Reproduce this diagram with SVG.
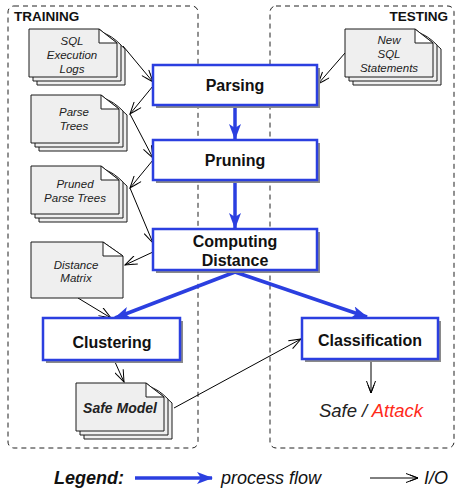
<svg xmlns="http://www.w3.org/2000/svg" width="455" height="491" viewBox="0 0 455 491">
<style>
.region{fill:none;stroke:#222;stroke-width:1;stroke-dasharray:5,4}
.rtitle{font-family:"Liberation Sans",Arial,sans-serif;font-weight:bold;font-size:13.5px;fill:#111}
.box{fill:#fff;stroke:#2b3fe0;stroke-width:2.5}
.shadow{fill:#8a8a8a}
.btxt{font-family:"Liberation Sans",Arial,sans-serif;font-weight:bold;font-size:16px;fill:#111;text-anchor:middle}
.sheet{fill:#efefef;stroke:#1a1a1a;stroke-width:1}
.fold{fill:#fff;stroke:#1a1a1a;stroke-width:1}
.dtxt{font-family:"Liberation Sans",Arial,sans-serif;font-style:italic;font-size:11.5px;fill:#222;text-anchor:middle}
.io{fill:none;stroke:#000;stroke-width:1;marker-end:url(#io)}
.flow{fill:none;stroke:#2b3fe0;stroke-width:3.5;marker-end:url(#flow)}
.lg{font-family:"Liberation Sans",Arial,sans-serif;font-size:18px;fill:#111}
</style>
<defs>
<marker id="io" viewBox="0 0 14 10" refX="13" refY="5" markerWidth="14" markerHeight="10" markerUnits="userSpaceOnUse" orient="auto">
<path d="M1,0.5 L13,5 L1,9.5 M5,2 L13,5 L5,8" fill="none" stroke="#000" stroke-width="1"/>
</marker>
<marker id="flow" viewBox="0 0 16 12" refX="15" refY="6" markerWidth="16" markerHeight="12" markerUnits="userSpaceOnUse" orient="auto">
<path d="M0,0 L16,6 L0,12 L4,6 Z" fill="#2b3fe0"/>
</marker>
<g id="stack">
<path class="sheet" d="M8,8 H78 Q86,10 96,20 V56 H8 Z"/>
<path class="sheet" d="M4,4 H74 Q82,6 92,16 V52 H4 Z"/>
<path class="sheet" d="M0,0 H70 L88,14 V48 H0 Z"/>
<path class="fold" d="M70,0 L88,14 H70 Z"/>
</g>
</defs>

<g id="regions">
<rect class="region" x="8" y="6" width="190" height="442" rx="6"/>
<text class="rtitle" x="14" y="21">TRAINING</text>
<rect class="region" x="270" y="6" width="184" height="442" rx="6"/>
<text class="rtitle" x="448" y="21" text-anchor="end">TESTING</text>
</g>

<g id="connectors">
<line class="flow" x1="235" y1="106" x2="235" y2="139"/>
<line class="flow" x1="235" y1="181" x2="235" y2="228"/>
<line class="flow" x1="235" y1="272" x2="115" y2="318"/>
<line class="flow" x1="235" y1="272" x2="367" y2="317"/>
<line class="io" x1="123" y1="46" x2="153" y2="82"/>
<line class="io" x1="153" y1="86" x2="130" y2="114"/>
<line class="io" x1="130" y1="114" x2="153" y2="158"/>
<line class="io" x1="153" y1="160" x2="130" y2="188"/>
<line class="io" x1="130" y1="188" x2="153" y2="243"/>
<line class="io" x1="153" y1="252" x2="125" y2="265"/>
<line class="io" x1="78" y1="298" x2="111" y2="318"/>
<line class="io" x1="115" y1="362" x2="124" y2="382"/>
<line class="io" x1="174" y1="408" x2="301" y2="339"/>
<line class="io" x1="345" y1="53" x2="318" y2="84"/>
<line class="io" x1="371" y1="361" x2="371" y2="393"/>
</g>

<g id="parsing">
<rect class="shadow" x="156" y="68" width="164" height="40"/>
<rect class="box" x="153" y="65" width="164" height="40"/>
<text class="btxt" x="235" y="91">Parsing</text>
</g>
<g id="pruning">
<rect class="shadow" x="156" y="143" width="164" height="40"/>
<rect class="box" x="153" y="140" width="164" height="40"/>
<text class="btxt" x="235" y="166">Pruning</text>
</g>
<g id="computing-distance">
<rect class="shadow" x="156" y="232" width="164" height="41"/>
<rect class="box" x="153" y="229" width="164" height="41"/>
<text class="btxt" x="235" y="247">Computing</text>
<text class="btxt" x="235" y="266">Distance</text>
</g>
<g id="clustering">
<rect class="shadow" x="46" y="321" width="137" height="42"/>
<rect class="box" x="43" y="318" width="137" height="42"/>
<text class="btxt" x="112" y="348">Clustering</text>
</g>
<g id="classification">
<rect class="shadow" x="305" y="321" width="136" height="41"/>
<rect class="box" x="302" y="318" width="136" height="41"/>
<text class="btxt" x="370" y="346">Classification</text>
</g>

<g id="sql-logs">
<use href="#stack" x="29" y="29"/>
<text class="dtxt" x="72" y="45">SQL</text>
<text class="dtxt" x="72" y="59">Execution</text>
<text class="dtxt" x="72" y="73">Logs</text>
</g>
<g id="parse-trees">
<use href="#stack" x="31" y="95"/>
<text class="dtxt" x="74" y="116">Parse</text>
<text class="dtxt" x="74" y="130">Trees</text>
</g>
<g id="pruned-parse-trees">
<use href="#stack" x="31" y="166"/>
<text class="dtxt" x="75" y="188">Pruned</text>
<text class="dtxt" x="75" y="202">Parse Trees</text>
</g>
<g id="distance-matrix">
<path class="sheet" d="M31,242 H103 L123,256 V298 H31 Z"/>
<path class="fold" d="M103,242 L123,256 H103 Z"/>
<text class="dtxt" x="76" y="269">Distance</text>
<text class="dtxt" x="76" y="282">Matrix</text>
</g>
<g id="safe-model">
<use href="#stack" x="76" y="383"/>
<text class="dtxt" x="120" y="413" style="font-weight:bold;font-size:14px">Safe Model</text>
</g>
<g id="new-sql">
<use href="#stack" x="345" y="29"/>
<text class="dtxt" x="389" y="44">New</text>
<text class="dtxt" x="389" y="58">SQL</text>
<text class="dtxt" x="389" y="72">Statements</text>
</g>

<g id="result">
<text x="371" y="417" text-anchor="middle" style="font-family:'Liberation Sans',Arial,sans-serif;font-style:italic;font-size:18.5px;fill:#222">Safe / <tspan fill="#ff2a1a">Attack</tspan></text>
</g>

<g id="legend">
<text class="lg" x="54" y="484" style="font-weight:bold;font-style:italic">Legend:</text>
<line class="flow" x1="135" y1="478" x2="212" y2="478"/>
<text class="lg" x="221" y="484" style="font-style:italic">process flow</text>
<line class="io" x1="370" y1="478" x2="418" y2="478"/>
<text class="lg" x="424" y="484" style="font-style:italic">I/O</text>
</g>
</svg>
